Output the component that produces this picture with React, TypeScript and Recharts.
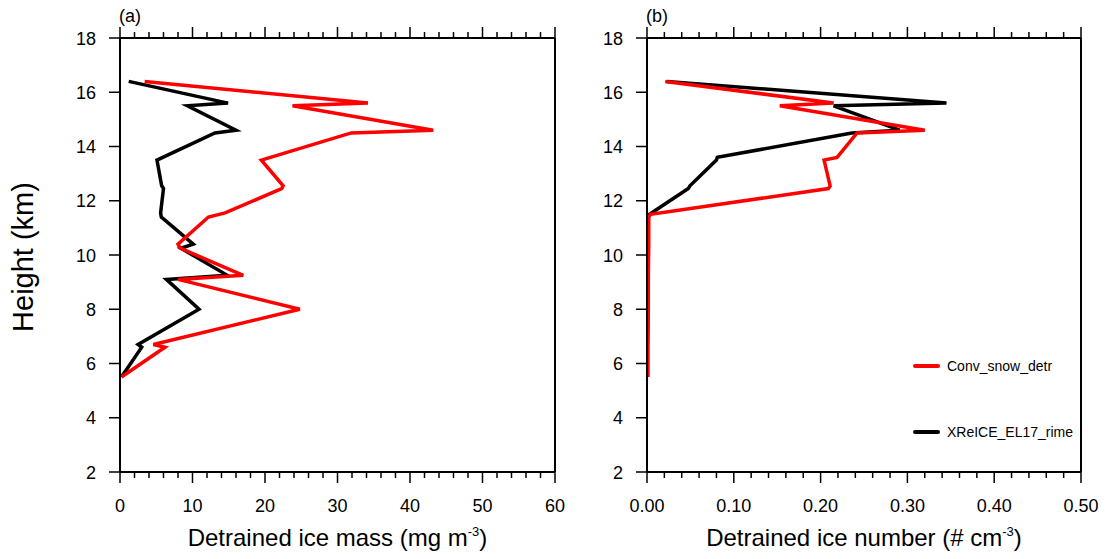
import React from 'react';
import { LineChart, Line, XAxis, YAxis } from 'recharts';

const FONT = '"Liberation Sans", Arial, Helvetica, sans-serif';

// panel (a): detrained ice mass (mg m-3) at each height (km)
const massHeights = [16.4, 15.6, 15.5, 14.6, 14.5, 13.5, 12.55, 12.45, 11.55, 11.4, 10.4, 10.25, 9.25, 9.1, 8.0, 6.7, 6.6, 5.5];
const massConvSnow = [3.4, 34.2, 23.8, 43.2, 31.9, 19.5, 22.5, 22.3, 14.5, 12.2, 8.0, 8.3, 17.0, 8.0, 24.8, 4.6, 6.2, 0.2];
const massXReICE = [1.2, 14.9, 9.3, 16.0, 13.1, 5.1, 5.75, 6.0, 5.6, 5.7, 10.1, 8.4, 14.8, 6.4, 10.9, 2.5, 3.0, 0.2];

// panel (b): detrained ice number (# cm-3)
const numHeights = [16.4, 15.6, 15.5, 14.6, 14.5, 13.6, 13.5, 12.55, 12.45, 11.5, 11.4, 10.4, 9.25, 8.0, 6.6, 5.5];
const numConvSnow = [0.021, 0.215, 0.153, 0.32, 0.242, 0.219, 0.204, 0.211, 0.209, 0.004, 0.002, 0.002, 0.0015, 0.0015, 0.001, 0.001];
const numXReICE = [0.023, 0.345, 0.215, 0.291, 0.236, 0.081, 0.08, 0.0495, 0.0476, 0.003, 0.0015, 0.001, 0.001, 0.001, 0.0005, 0.0005];

const heightTicks = [2, 4, 6, 8, 10, 12, 14, 16, 18];
const massMajor = [0, 10, 20, 30, 40, 50, 60];
const numMajor = [0, 0.1, 0.2, 0.3, 0.4, 0.5];

const SERIES_NAMES = ['Conv_snow_detr', 'XReICE_EL17_rime'];
const SERIES_COLORS = ['#ff0000', '#000000'];

// majors split into 5 minor steps
function withMinors(major: number[]) {
  const out: number[] = [];
  for (let i = 0; i < major.length - 1; i++) {
    const step = (major[i + 1] - major[i]) / 5;
    for (let k = 0; k < 5; k++) out.push(Math.round((major[i] + k * step) * 1000) / 1000);
  }
  out.push(major[major.length - 1]);
  return out;
}

const toPoints = (hs: number[], vs: number[]) => hs.map((h, i) => ({ h, v: vs[i] }));

const TICK = 11;
const MINOR = 6;

function makeTick(side: 'bottom' | 'top' | 'left' | 'right', majors: number[], fmt: (v: number) => string) {
  return (p: any) => {
    const { x, y, payload } = p;
    const val = Number(payload.value);
    const major = majors.some((m) => Math.abs(m - val) < 1e-6);
    const len = major ? TICK : MINOR;
    if (side === 'bottom') {
      return (
        <g>
          <line x1={x} x2={x} y1={y} y2={y + len} stroke="#000" strokeWidth={1.5} />
          {major && (
            <text x={x} y={y + 40} textAnchor="middle" fontSize={18} fontFamily={FONT} fill="#000">
              {fmt(val)}
            </text>
          )}
        </g>
      );
    }
    if (side === 'top') return <line x1={x} x2={x} y1={y} y2={y - len} stroke="#000" strokeWidth={1.5} />;
    if (side === 'right') return <line x1={x} x2={x + len} y1={y} y2={y} stroke="#000" strokeWidth={1.5} />;
    return (
      <g>
        <line x1={x} x2={x - len} y1={y} y2={y} stroke="#000" strokeWidth={1.5} />
        <text x={x - 24} y={y + 6.5} textAnchor="end" fontSize={18} fontFamily={FONT} fill="#000">
          {fmt(val)}
        </text>
      </g>
    );
  };
}

interface PanelProps {
  tag: string;
  left: number;
  width: number;
  margin: { top: number; right: number; bottom: number; left: number };
  domain: [number, number];
  majors: number[];
  fmt: (v: number) => string;
  titleMain: string;
  convSnow: { h: number; v: number }[];
  xReICE: { h: number; v: number }[];
  showYTitle?: boolean;
}

function Panel(props: PanelProps) {
  const { tag, left, width, margin, domain, majors, fmt, titleMain, convSnow, xReICE, showYTitle } = props;
  const xTicks = withMinors(majors);
  const axisLine = { stroke: '#000', strokeWidth: 2 };
  return (
    <div style={{ position: 'absolute', left, top: 0 }}>
      <LineChart width={width} height={559} layout="vertical" margin={margin}>
        <XAxis
          xAxisId="bottom"
          type="number"
          dataKey="v"
          orientation="bottom"
          domain={domain}
          allowDataOverflow
          ticks={xTicks}
          interval={0}
          height={10}
          tickSize={0}
          tickMargin={0}
          tickLine={false}
          axisLine={axisLine}
          tick={makeTick('bottom', majors, fmt)}
          label={(p: any) => {
            const vb = p.viewBox;
            return (
              <text x={vb.x + vb.width / 2} y={vb.y + 74} textAnchor="middle" fontSize={24} fontFamily={FONT} fill="#000">
                <tspan>{titleMain}</tspan>
                <tspan dy={-10} fontSize={13}>-3</tspan>
                <tspan dy={10}>)</tspan>
              </text>
            );
          }}
        />
        <XAxis
          xAxisId="top"
          type="number"
          orientation="top"
          domain={domain}
          allowDataOverflow
          ticks={xTicks}
          interval={0}
          height={10}
          tickSize={0}
          tickMargin={0}
          tickLine={false}
          axisLine={axisLine}
          tick={makeTick('top', majors, fmt)}
          label={(p: any) => {
            const vb = p.viewBox;
            return (
              <text x={vb.x - 1} y={21.5} fontSize={18} fontFamily={FONT} fill="#000">
                {tag}
              </text>
            );
          }}
        />
        <YAxis
          yAxisId="left"
          type="number"
          dataKey="h"
          domain={[2, 18]}
          reversed
          allowDataOverflow
          ticks={heightTicks}
          interval={0}
          width={60}
          tickSize={0}
          tickMargin={0}
          tickLine={false}
          axisLine={axisLine}
          tick={makeTick('left', heightTicks, (v) => String(v))}
          label={
            showYTitle
              ? (p: any) => {
                  const vb = p.viewBox;
                  const cx = vb.x - 27;
                  const cy = vb.y + vb.height / 2 + 2;
                  return (
                    <text x={cx} y={cy} transform={`rotate(-90, ${cx}, ${cy})`} textAnchor="middle" fontSize={29} fontFamily={FONT} fill="#000">
                      Height (km)
                    </text>
                  );
                }
              : undefined
          }
        />
        <YAxis
          yAxisId="right"
          type="number"
          orientation="right"
          domain={[2, 18]}
          reversed
          allowDataOverflow
          ticks={heightTicks}
          interval={0}
          width={10}
          tickSize={0}
          tickMargin={0}
          tickLine={false}
          axisLine={axisLine}
          tick={makeTick('right', heightTicks, (v) => String(v))}
        />
        <Line
          xAxisId="bottom"
          yAxisId="left"
          data={xReICE}
          dataKey="v"
          name={SERIES_NAMES[1]}
          stroke={SERIES_COLORS[1]}
          strokeWidth={3.5}
          strokeLinejoin="miter"
          dot={false}
          isAnimationActive={false}
        />
        <Line
          xAxisId="bottom"
          yAxisId="left"
          data={convSnow}
          dataKey="v"
          name={SERIES_NAMES[0]}
          stroke={SERIES_COLORS[0]}
          strokeWidth={3.5}
          strokeLinejoin="miter"
          dot={false}
          isAnimationActive={false}
        />
      </LineChart>
    </div>
  );
}

function LegendBox() {
  return (
    <div style={{ position: 'absolute', left: 913, top: 356, fontFamily: FONT, fontSize: 14, color: '#000' }}>
      {SERIES_NAMES.map((n, i) => (
        <div key={n} style={{ display: 'flex', alignItems: 'center', height: 20, marginBottom: i === 0 ? 46 : 0 }}>
          <div style={{ width: 27, height: 4, borderRadius: 2, background: SERIES_COLORS[i], marginRight: 7 }} />
          <span>{n}</span>
        </div>
      ))}
    </div>
  );
}

export default function App() {
  return (
    <div style={{ position: 'absolute', left: 0, top: 0, width: 1105, height: 559, background: '#fff', overflow: 'hidden' }}>
      <Panel
        tag="(a)"
        left={0}
        width={600}
        margin={{ top: 28, right: 35, bottom: 77, left: 60 }}
        domain={[0, 60]}
        majors={massMajor}
        fmt={(v) => String(v)}
        titleMain="Detrained ice mass (mg m"
        convSnow={toPoints(massHeights, massConvSnow)}
        xReICE={toPoints(massHeights, massXReICE)}
        showYTitle
      />
      <Panel
        tag="(b)"
        left={500}
        width={605}
        margin={{ top: 28, right: 14, bottom: 77, left: 87 }}
        domain={[0, 0.5]}
        majors={numMajor}
        fmt={(v) => v.toFixed(2)}
        titleMain="Detrained ice number (# cm"
        convSnow={toPoints(numHeights, numConvSnow)}
        xReICE={toPoints(numHeights, numXReICE)}
      />
      <LegendBox />
    </div>
  );
}
